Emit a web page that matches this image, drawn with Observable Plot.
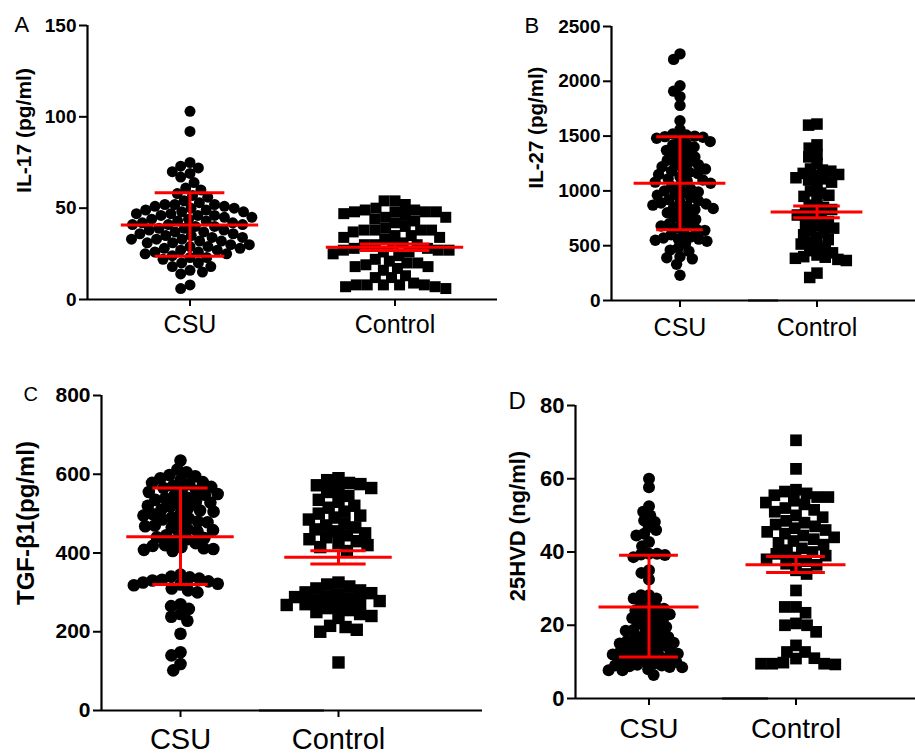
<!DOCTYPE html>
<html><head><meta charset="utf-8">
<script src="https://cdn.jsdelivr.net/npm/d3@7"></script>
<script src="https://cdn.jsdelivr.net/npm/@observablehq/plot@0.6"></script>
<style>
html,body{margin:0;padding:0;background:#fff}
body{width:915px;height:756px;position:relative;overflow:hidden;font-family:"Liberation Sans",Arial,sans-serif}
.panel{position:absolute}
.panel svg{overflow:visible;background:transparent}
.panel [aria-label="y-axis tick label"] text{font-weight:bold;fill:#000}
.panel [aria-label="fx-axis tick label"] text{font-weight:normal;fill:#000}
.panel [aria-label="y-axis tick"] path,.panel [aria-label="fx-axis tick"] path{stroke-width:2px;stroke:#000}
</style></head><body>
<div id="pA" class="panel"></div>
<div id="pB" class="panel"></div>
<div id="pC" class="panel"></div>
<div id="pD" class="panel"></div>
<script>
// ---- data ----
const categories = ["CSU", "Control"];

const il17Csu = [103, 92, 75, 73, 72, 70, 69, 67, 64, 61, 60, 58, 57, 56, 54, 53, 52, 52, 52, 51, 51, 50, 50, 49, 49, 48, 48, 47, 47, 46, 46, 46, 45, 45, 44, 44, 43, 43, 42, 42, 41, 41, 41, 40, 40, 39, 39, 38, 38, 37, 37, 36, 36, 35, 35, 34, 34, 33, 33, 33, 32, 32, 31, 31, 30, 30, 29, 29, 28, 28, 27, 27, 26, 26, 25, 25, 24, 23, 23, 22, 20, 20, 18, 18, 16, 15, 14, 8, 6];
const il17Ctrl = [54, 54, 52, 50, 49, 49, 48, 48, 48, 48, 47, 46, 45, 45, 44, 43, 42, 40, 39, 38, 38, 38, 38, 37, 35, 35, 34, 34, 33, 31, 30, 30, 30, 29, 28, 28, 27, 27, 27, 26, 26, 25, 24, 22, 21, 20, 20, 19, 18, 18, 17, 16, 13, 12, 12, 9, 8, 8, 8, 8, 8, 7, 7, 6];
const il17Mean = [40.8, 28.6];
const il17Low = [23.7, 26.8];
const il17High = [58.5, 30.4];

const il27Csu = [2250, 2200, 1960, 1910, 1860, 1780, 1640, 1560, 1520, 1510, 1500, 1495, 1490, 1480, 1470, 1450, 1430, 1420, 1400, 1380, 1370, 1350, 1330, 1310, 1300, 1280, 1260, 1250, 1240, 1220, 1210, 1200, 1180, 1170, 1160, 1150, 1130, 1110, 1100, 1090, 1080, 1070, 1050, 1040, 1020, 1000, 990, 980, 970, 960, 940, 920, 910, 900, 890, 880, 870, 860, 850, 840, 830, 810, 800, 780, 760, 740, 720, 700, 690, 680, 660, 650, 640, 620, 600, 580, 570, 560, 560, 550, 540, 520, 480, 460, 450, 400, 390, 380, 330, 230];
const il27Ctrl = [1610, 1600, 1420, 1390, 1330, 1310, 1250, 1200, 1190, 1180, 1160, 1150, 1140, 1120, 1110, 1100, 1080, 1050, 1000, 980, 960, 950, 900, 870, 850, 830, 820, 800, 780, 760, 740, 720, 700, 680, 660, 640, 620, 600, 575, 555, 535, 515, 495, 475, 455, 435, 415, 400, 395, 385, 375, 365, 250, 210];
const il27Mean = [1070, 808];
const il27Low = [645, 755];
const il27High = [1495, 862];

const tgfCsu = [635, 612, 605, 598, 595, 590, 585, 580, 578, 575, 570, 568, 565, 560, 558, 555, 550, 548, 545, 540, 538, 535, 530, 528, 525, 520, 518, 515, 510, 508, 505, 500, 498, 495, 490, 488, 485, 480, 478, 475, 470, 468, 465, 460, 458, 455, 450, 445, 440, 438, 435, 430, 425, 420, 418, 415, 412, 410, 408, 405, 345, 340, 338, 335, 332, 330, 328, 325, 322, 320, 318, 310, 305, 300, 270, 265, 258, 245, 238, 228, 195, 148, 140, 118, 102];
const tgfCtrl = [590, 585, 578, 575, 572, 565, 560, 555, 545, 535, 530, 520, 515, 505, 500, 495, 490, 485, 475, 470, 465, 460, 455, 450, 445, 440, 435, 430, 425, 420, 415, 405, 325, 320, 315, 310, 305, 300, 298, 295, 290, 288, 285, 280, 278, 275, 270, 268, 265, 260, 255, 250, 245, 240, 235, 215, 212, 205, 200, 122];
const tgfMean = [441, 389];
const tgfLow = [320, 372];
const tgfHigh = [565, 406];

const vdCsu = [60, 57.7, 52.5, 51, 50, 48.6, 48.2, 46.8, 46, 45, 44.5, 42.7, 41.6, 39.5, 39.5, 39.3, 39.2, 38.6, 35, 34.3, 32.5, 28.2, 28.2, 27.3, 27.3, 26, 25.5, 25, 24.5, 24, 23.5, 23, 22.8, 22.5, 22, 21.5, 21, 20.5, 20, 19.5, 19, 18.8, 18.5, 18, 17.5, 17, 16.8, 16.5, 16, 15.8, 15.5, 15.2, 15, 14.8, 14.5, 14, 13.8, 13.5, 13.2, 13, 12.8, 12.5, 12.2, 12, 11.8, 11.5, 11.2, 11, 10.8, 10.5, 10.2, 10, 9.5, 9.2, 9, 9, 8.8, 8.6, 8.5, 8, 7.7, 7.7, 6.4];
const vdCtrl = [70.5, 62.7, 57, 56.5, 56, 55.5, 55, 55, 54, 53.5, 53, 52, 51.5, 51, 50, 49.5, 48.5, 48, 47.5, 47, 46.5, 46, 45.5, 45, 44.5, 44, 43.5, 43, 42.5, 42, 41, 40.5, 40, 39.5, 39, 38.5, 38, 37.5, 36.8, 36.5, 35, 34, 29.5, 25, 25, 23.4, 20.5, 20, 20, 18.2, 14.5, 12.7, 12.7, 11, 10.9, 9.8, 9.5, 9.5, 9.5, 9.3];
const vdMean = [25, 36.5];
const vdLow = [11.3, 34.4];
const vdHigh = [39.1, 38.8];

// ---- drawing ----
function panel(cfg) {
  const csu = cfg.csu.map(v => ({cat: categories[0], v}));
  const ctrl = cfg.ctrl.map(v => ({cat: categories[1], v}));
  const summary = categories.map((cat, i) => ({cat, mean: cfg.mean[i], lo: cfg.lo[i], hi: cfg.hi[i]}));
  const bands = categories.map(cat => ({cat, base: cfg.domain[0]}));
  const first = [{cat: categories[0], label: cfg.label, letter: cfg.letter}];
  const red = {stroke: "#ff0000", strokeWidth: 3};
  const el = document.getElementById(cfg.id);
  el.style.left = cfg.left + "px";
  el.style.top = cfg.top + "px";
  el.style.width = cfg.width + "px";
  const chart = Plot.plot({
    width: cfg.width, height: cfg.height,
    marginLeft: cfg.ml, marginRight: cfg.mr, marginTop: cfg.mt, marginBottom: cfg.mb,
    style: {background: "transparent", overflow: "visible", fontFamily: "Liberation Sans, Arial, sans-serif", color: "#000"},
    fx: {domain: categories, padding: 0, label: null, tickSize: 7, tickPadding: cfg.catPad},
    x: {domain: [-1, 1], axis: null},
    y: {domain: cfg.domain, ticks: cfg.ticks, tickFormat: "d", tickSize: 8, tickPadding: 3, label: null},
    marks: [
      Plot.ruleX(first, {fx: "cat", x: -1, stroke: "#000", strokeWidth: 2.2}),
      Plot.dot(csu, Plot.dodgeX({anchor: "middle", padding: cfg.padC}, {y: "v", fx: "cat", r: cfg.rC, fill: "#000", symbol: "circle"})),
      Plot.dot(ctrl, Plot.dodgeX({anchor: "middle", padding: cfg.padS}, {y: "v", fx: "cat", r: cfg.rS, fill: "#000", symbol: "square"})),
      Plot.ruleY(summary, {fx: "cat", y: "mean", x1: -cfg.mw, x2: cfg.mw, ...red}),
      Plot.ruleY(summary, {fx: "cat", y: "lo", x1: -cfg.cw, x2: cfg.cw, ...red}),
      Plot.ruleY(summary, {fx: "cat", y: "hi", x1: -cfg.cw, x2: cfg.cw, ...red}),
      Plot.ruleX(summary, {fx: "cat", x: 0, y1: "lo", y2: "hi", ...red}),
      Plot.text(first, {fx: "cat", text: "label", frameAnchor: "left", rotate: -90, dx: cfg.ldx, dy: cfg.ldy,
        textAnchor: "middle", lineAnchor: "middle", fontSize: cfg.labelFont, fontWeight: "bold", fill: "#000"}),
      Plot.text(first, {fx: "cat", text: "letter", frameAnchor: "top-left", dx: cfg.tdx, dy: cfg.tdy,
        textAnchor: "start", lineAnchor: "bottom", fontSize: cfg.letterFont, fill: "#000"}),
      Plot.ruleY(bands, {fx: "cat", y: "base", stroke: "#000", strokeWidth: 2.2, insetRight: -cfg.ext})
    ]
  });
  el.appendChild(chart);
  const css = document.createElement("style");
  css.textContent = `#${cfg.id} [aria-label="y-axis tick label"] text{font-size:${cfg.tickFont}px}
#${cfg.id} [aria-label="fx-axis tick label"] text{font-size:${cfg.catFont}px}`;
  document.head.appendChild(css);
}

panel({id: "pA", csu: il17Csu, ctrl: il17Ctrl, mean: il17Mean, lo: il17Low, hi: il17High,
  domain: [0, 150], ticks: [0, 50, 100, 150], label: "IL-17 (pg/ml)", letter: "A",
  left: 0, top: 0, width: 500, height: 345, ml: 86, mr: 3, mt: 25, mb: 46, ext: 0,
  tickFont: 19, catFont: 25, catPad: 9, labelFont: 21, ldx: -63, ldy: -32, letterFont: 22, tdx: -73, tdy: 6,
  rC: 5.5, rS: 6.2, padC: -1, padS: -1.5, mw: 0.67, cw: 0.34});

panel({id: "pB", csu: il27Csu, ctrl: il27Ctrl, mean: il27Mean, lo: il27Low, hi: il27High,
  domain: [0, 2500], ticks: [0, 500, 1000, 1500, 2000, 2500], label: "IL-27 (pg/ml)", letter: "B",
  left: 460, top: 0, width: 455, height: 345, ml: 150, mr: 30, mt: 26, mb: 45, ext: 30,
  tickFont: 19, catFont: 25, catPad: 11, labelFont: 20.5, ldx: -75, ldy: -36, letterFont: 22, tdx: -87, tdy: 6,
  rC: 5.7, rS: 6.5, padC: -3, padS: -4.5, mw: 0.67, cw: 0.34});

panel({id: "pC", csu: tgfCsu, ctrl: tgfCtrl, mean: tgfMean, lo: tgfLow, hi: tgfHigh,
  domain: [0, 800], ticks: [0, 200, 400, 600, 800], label: "TGF-β1(pg/ml)", letter: "C",
  left: 0, top: 380, width: 490, height: 376, ml: 100, mr: 73, mt: 15, mb: 46, ext: 65,
  tickFont: 21, catFont: 29, catPad: 11, labelFont: 24, ldx: -75, ldy: -30, letterFont: 20, tdx: -78, tdy: 5,
  rC: 6.3, rS: 7, padC: -3, padS: -2.5, mw: 0.68, cw: 0.35});

panel({id: "pD", csu: vdCsu, ctrl: vdCtrl, mean: vdMean, lo: vdLow, hi: vdHigh,
  domain: [0, 80], ticks: [0, 20, 40, 60, 80], label: "25HVD (ng/ml)", letter: "D",
  left: 460, top: 380, width: 455, height: 376, ml: 115, mr: 46, mt: 25, mb: 58, ext: 46,
  tickFont: 22, catFont: 28, catPad: 13, labelFont: 22, ldx: -58, ldy: -26, letterFont: 24, tdx: -67, tdy: 3,
  rC: 6, rS: 6.6, padC: -4, padS: -2, mw: 0.68, cw: 0.4});
</script>
</body></html>
